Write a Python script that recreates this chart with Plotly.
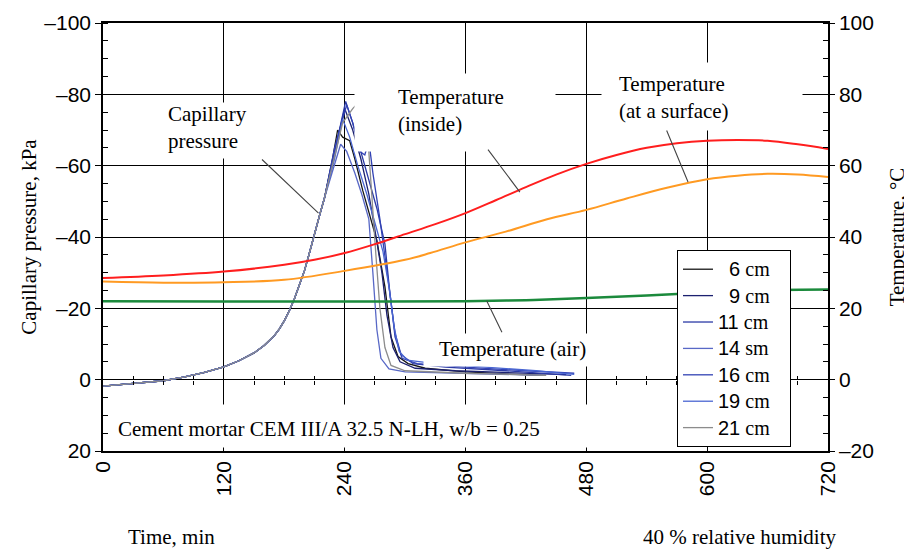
import plotly.graph_objects as go

# ---------------- data ----------------
# shared rising branch of the capillary-pressure curves (min, kPa)
t_rise = [0, 20, 40, 60, 80, 100, 120, 135, 150, 160, 170, 175, 180, 185, 190, 195, 200, 205, 210, 215, 220]
p_rise = [1.8, 1.3, 0.8, 0.3, -0.7, -2.0, -3.6, -5.3, -7.5, -9.6, -12.3, -14.2, -16.5, -19.3,
          -22.6, -26.3, -30.5, -35.5, -41, -46, -51]

t_6 = [228, 233, 238, 245, 250, 258, 266, 272, 280, 286, 293, 303, 320, 360, 400, 440]
p_6 = [-62, -70, -68, -67, -62, -53, -45, -39, -26, -12, -6.5, -4.5, -3.2, -2.2, -1.6, -1.2]

t_9 = [230, 240, 248, 256, 264, 270, 277, 282, 288, 295, 310, 350, 400, 460]
p_9 = [-64, -76, -70, -62, -52, -42, -30, -18, -9, -5, -3.2, -2.5, -2, -1.4]

t_11 = [230, 241, 248, 256, 264, 272, 280, 285, 290, 296, 308, 340, 400, 465]
p_11 = [-64, -78, -72, -64, -56, -48, -38, -24, -13, -7, -4.5, -3.5, -2.5, -1.2]

t_14 = [230, 236, 242, 250, 257, 264, 268, 272, 276, 284, 300, 360, 440]
p_14 = [-60, -66, -64, -58, -52, -45, -30, -14, -6, -3, -2.2, -1.8, -1.2]

t_16 = [230, 242, 248, 255, 260, 264, 268, 275, 281, 286, 290, 297, 312, 360, 420, 468]
p_16 = [-65, -77, -72, -64, -63, -67, -58, -45, -33, -22, -12, -6, -4.5, -3.5, -2.5, -1.8]

t_19 = [230, 238, 245, 253, 262, 270, 278, 284, 289, 294, 302, 330, 380, 430, 468]
p_19 = [-62, -73, -68, -60, -52, -44, -36, -26, -15, -8, -5.5, -4.5, -3.5, -2.5, -1.5]

t_21 = [228, 238, 248, 258, 263, 267, 271, 275, 280, 286, 300, 360, 440]
p_21 = [-60, -72, -76, -79, -68, -50, -35, -20, -9, -4, -2.5, -1.8, -1.2]

series_names = ["6", "9", "11", "14", "16", "19", "21"]
series_units = ["cm", "cm", "cm", "sm", "cm", "cm", "cm"]
series_t = [t_6, t_9, t_11, t_14, t_16, t_19, t_21]
series_p = [p_6, p_9, p_11, p_14, p_16, p_19, p_21]
series_colors = ["#151515", "#1c2170", "#2b3aa6", "#5868c6", "#3242b4", "#4a66d2", "#8c8c8c"]

# temperatures (min, °C)
t_inside = [0, 60, 120, 180, 210, 240, 270, 300, 330, 360, 390, 420, 450, 480, 510, 540, 570, 600, 630, 660, 690, 720]
temp_inside = [28.5, 29.2, 30.3, 32.2, 33.6, 35.5, 38.0, 40.8, 43.6, 46.7, 50.3, 54.0, 57.5, 60.5,
               63.0, 65.0, 66.3, 67.0, 67.2, 67.0, 66.0, 64.7]
t_surface = [0, 60, 120, 180, 240, 300, 325, 360, 400, 441, 480, 520, 560, 600, 630, 660, 690, 720]
temp_surface = [27.5, 27.2, 27.3, 28.0, 30.5, 33.6, 35.5, 38.5, 41.5, 45.0, 47.6, 50.8, 53.8, 56.2,
                57.2, 57.7, 57.5, 56.8]
t_air = [0, 120, 240, 360, 420, 480, 540, 600, 660, 720]
temp_air = [22.0, 21.9, 21.9, 22.0, 22.3, 22.9, 23.6, 24.4, 25.1, 25.3]

x_ticks = [0, 120, 240, 360, 480, 600, 720]
p_ticks = [-100, -80, -60, -40, -20, 0, 20]
temp_ticks = [-20, 0, 20, 40, 60, 80, 100]
minor_x = [30, 60, 90, 150, 180, 210, 270, 300, 330, 390, 420, 450, 510, 540, 570, 630, 660, 690]


def lab(v):
    return ("\u2013" + str(-v)) if v < 0 else str(v)


SANS = "Liberation Sans"
SERIF = "Liberation Serif"

fig = go.Figure()

# temperature curves (right axis)
fig.add_trace(go.Scatter(x=t_inside, y=temp_inside, yaxis="y2", mode="lines", line_shape="spline",
                         line=dict(color="#ff1e1e", width=2), showlegend=False))
fig.add_trace(go.Scatter(x=t_surface, y=temp_surface, yaxis="y2", mode="lines", line_shape="spline",
                         line=dict(color="#ff9a22", width=2), showlegend=False))
fig.add_trace(go.Scatter(x=t_air, y=temp_air, yaxis="y2", mode="lines", line_shape="spline",
                         line=dict(color="#1b8a3c", width=2.5), showlegend=False))

# capillary pressure curves (left axis)
for name, unit, tt, pp, col in zip(series_names, series_units, series_t, series_p, series_colors):
    label = ("<span style='font-size:20px'>" + ("\u2007" if len(name) == 1 else "") + name +
             "</span> <span style='font-family:Liberation Serif;font-size:20px'>" + unit +
             "</span>\u00a0\u00a0\u00a0")
    fig.add_trace(go.Scatter(x=t_rise + tt, y=p_rise + pp, mode="lines", name=label,
                             line=dict(color=col, width=1.3)))

# empty helper traces for the tick axes on the zero line
fig.add_trace(go.Scatter(x=[], y=[], xaxis="x2", showlegend=False, hoverinfo="skip"))
fig.add_trace(go.Scatter(x=[], y=[], xaxis="x3", showlegend=False, hoverinfo="skip"))

# ---------------- annotations ----------------
ann = []
tfont = dict(family=SERIF, size=21, color="black")


def white_box(xt, yt, yref, dx, dy, w, h):
    ann.append(dict(x=xt, y=yt, xref="x", yref=yref, text=" ", showarrow=False,
                    xshift=dx, yshift=dy, width=w, height=h,
                    bgcolor="white", borderpad=0, font=dict(size=4)))


def label_group(xt, yt, yref, box_dx, box_dy, box_w, box_h, arr_dx, arr_dy, txt_dx, txt_dy, text):
    white_box(xt, yt, yref, box_dx, box_dy, box_w, box_h)
    # leader line
    ann.append(dict(x=xt, y=yt, xref="x", yref=yref, text="", showarrow=True,
                    ax=arr_dx, ay=arr_dy, arrowhead=0, arrowwidth=1.1,
                    arrowcolor="#444444", standoff=0, startstandoff=0))
    # text
    ann.append(dict(x=xt, y=yt, xref="x", yref=yref, text=text, showarrow=False,
                    xanchor="left", yanchor="middle", align="left",
                    xshift=txt_dx, yshift=txt_dy, font=tfont, borderpad=0))


label_group(214, -46.7, "y", -111, 83, 166, 55, -58, -55, -151, 86, "Capillary<br>pressure")
label_group(414, 52.6, "y2", -65, 80, 200, 77, -33, -44, -123, 82, "Temperature<br>(inside)")
label_group(581, 55.4, "y2", 14, 86, 200, 67, -22, -53, -70, 85, "Temperature<br>(at a surface)")
label_group(381, 22.1, "y2", 30, -49, 185, 32, 16, 33, -49, -48, "Temperature (air)")

# cement mortar box + text (anchored at t = 0, p = 13)
white_box(0, 13, "y", 252, 0, 490, 42)
ann.append(dict(x=0, y=13, xref="x", yref="y",
                text="Cement mortar CEM III/A 32.5 N-LH, w/b = 0.25", showarrow=False,
                xanchor="left", yanchor="middle", xshift=14, yshift=-3, font=tfont, borderpad=0))

# bottom captions
ann.append(dict(x=0.0945, y=-0.201, xref="paper", yref="paper", text="Time, min",
                showarrow=False, xanchor="center", yanchor="middle", font=tfont))
ann.append(dict(x=0.879, y=-0.201, xref="paper", yref="paper", text="40 % relative humidity",
                showarrow=False, xanchor="center", yanchor="middle", font=tfont))

zero_pos = 20 / 120  # paper position of p = 0

fig.update_layout(
    width=904, height=543,
    margin=dict(l=95, r=84, t=15, b=100, pad=0, autoexpand=False),
    paper_bgcolor="white", plot_bgcolor="white",
    font=dict(family=SANS, color="black"),
    xaxis=dict(range=[0, 720], tickvals=x_ticks, ticktext=[str(v) for v in x_ticks],
               tickangle=-90, ticks="", showgrid=True, gridcolor="black", gridwidth=1,
               showline=True, linecolor="black", linewidth=1.5, mirror=True,
               zeroline=False, tickfont=dict(family=SANS, size=21)),
    xaxis2=dict(range=[0, 720], overlaying="x", anchor="free", position=zero_pos,
                tickvals=minor_x, ticks="outside", ticklen=4, tickwidth=1, tickcolor="black",
                showticklabels=False, showline=False, showgrid=False, zeroline=False),
    xaxis3=dict(range=[0, 720], overlaying="x", anchor="free", position=zero_pos,
                tickvals=minor_x, ticks="inside", ticklen=4, tickwidth=1, tickcolor="black",
                showticklabels=False, showline=False, showgrid=False, zeroline=False),
    yaxis=dict(range=[20, -100], tickvals=p_ticks, ticktext=[lab(v) for v in p_ticks],
               ticks="outside", ticklen=6, tickwidth=1, tickcolor="black",
               minor=dict(dtick=5, tick0=0, ticks="inside", ticklen=5, tickcolor="black", showgrid=False),
               showgrid=True, gridcolor="black", gridwidth=1,
               showline=True, linecolor="black", linewidth=1.5, zeroline=False,
               tickfont=dict(family=SANS, size=21),
               title=dict(text="Capillary pressure, kPa", font=dict(family=SERIF, size=21), standoff=2)),
    yaxis2=dict(range=[-20, 100], overlaying="y", side="right", tickvals=temp_ticks,
                ticktext=[lab(v) for v in temp_ticks],
                ticks="outside", ticklen=5, tickwidth=1, tickcolor="black",
                minor=dict(dtick=5, tick0=0, ticks="inside", ticklen=5, tickcolor="black", showgrid=False),
                showgrid=False, showline=True, linecolor="black", linewidth=1.5, zeroline=False,
                tickfont=dict(family=SANS, size=21),
                title=dict(text="Temperature, \u00b0C", font=dict(family=SERIF, size=21), standoff=16)),
    legend=dict(x=0.7917, y=0.4696, xanchor="left", yanchor="top", bgcolor="white",
                bordercolor="black", borderwidth=1, font=dict(family=SANS, size=18, color="black"),
                itemwidth=30, tracegroupgap=0),
    annotations=ann,
    showlegend=True,
)

fig.write_html("out.html")
